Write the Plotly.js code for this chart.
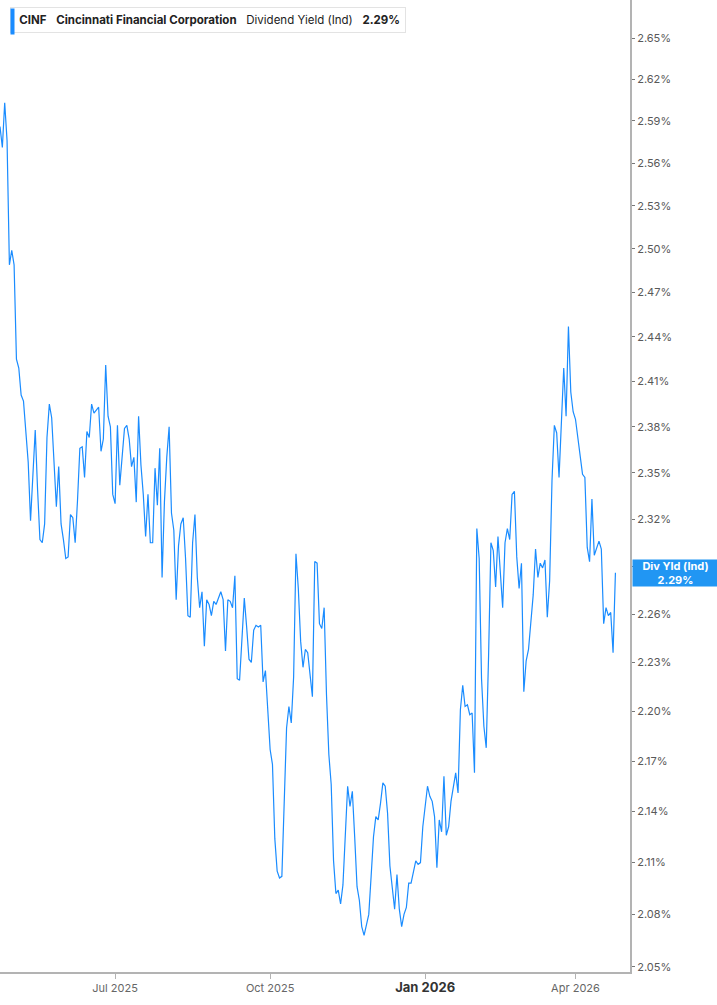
<!DOCTYPE html>
<html>
<head>
<meta charset="utf-8">
<script src="https://cdn.plot.ly/plotly-3.0.1.min.js"></script>
<style>
  html, body { margin: 0; padding: 0; background: #fff; }
  #plot { width: 717px; height: 1005px; }
</style>
</head>
<body>
<div id="plot"></div>
<script>
// trading days, Apr 23 2025 -> Apr 24 2026
const dates = [
    '2025-04-23','2025-04-24','2025-04-25','2025-04-28','2025-04-29','2025-04-30',
    '2025-05-01','2025-05-02','2025-05-05','2025-05-06','2025-05-07','2025-05-08','2025-05-09',
    '2025-05-12','2025-05-13','2025-05-14','2025-05-15','2025-05-16','2025-05-19','2025-05-20',
    '2025-05-21','2025-05-22','2025-05-23','2025-05-27','2025-05-28','2025-05-29','2025-05-30',
    '2025-06-02','2025-06-03','2025-06-04','2025-06-05','2025-06-06','2025-06-09','2025-06-10',
    '2025-06-11','2025-06-12','2025-06-13','2025-06-16','2025-06-17','2025-06-18','2025-06-20',
    '2025-06-23','2025-06-24','2025-06-25','2025-06-26','2025-06-27','2025-06-30',
    '2025-07-01','2025-07-02','2025-07-03','2025-07-07','2025-07-08','2025-07-09','2025-07-10',
    '2025-07-11','2025-07-14','2025-07-15','2025-07-16','2025-07-17','2025-07-18','2025-07-21',
    '2025-07-22','2025-07-23','2025-07-24','2025-07-25','2025-07-28','2025-07-29','2025-07-30','2025-07-31',
    '2025-08-01','2025-08-04','2025-08-05','2025-08-06','2025-08-07','2025-08-08','2025-08-11',
    '2025-08-12','2025-08-13','2025-08-14','2025-08-15','2025-08-18','2025-08-19','2025-08-20',
    '2025-08-21','2025-08-22','2025-08-25','2025-08-26','2025-08-27','2025-08-28','2025-08-29',
    '2025-09-02','2025-09-03','2025-09-04','2025-09-05','2025-09-08','2025-09-09','2025-09-10',
    '2025-09-11','2025-09-12','2025-09-15','2025-09-16','2025-09-17','2025-09-18','2025-09-19',
    '2025-09-22','2025-09-23','2025-09-24','2025-09-25','2025-09-26','2025-09-29','2025-09-30',
    '2025-10-01','2025-10-02','2025-10-03','2025-10-06','2025-10-07','2025-10-08','2025-10-09',
    '2025-10-10','2025-10-13','2025-10-14','2025-10-15','2025-10-16','2025-10-17','2025-10-20',
    '2025-10-21','2025-10-22','2025-10-23','2025-10-24','2025-10-27','2025-10-28','2025-10-29',
    '2025-10-30','2025-10-31',
    '2025-11-03','2025-11-04','2025-11-05','2025-11-06','2025-11-07','2025-11-10','2025-11-11',
    '2025-11-12','2025-11-13','2025-11-14','2025-11-17','2025-11-18','2025-11-19','2025-11-20',
    '2025-11-21','2025-11-24','2025-11-25','2025-11-26','2025-11-28',
    '2025-12-01','2025-12-02','2025-12-03','2025-12-04','2025-12-05','2025-12-08','2025-12-09',
    '2025-12-10','2025-12-11','2025-12-12','2025-12-15','2025-12-16','2025-12-17','2025-12-18',
    '2025-12-19','2025-12-22','2025-12-23','2025-12-24','2025-12-26','2025-12-29','2025-12-30','2025-12-31',
    '2026-01-02','2026-01-05','2026-01-06','2026-01-07','2026-01-08','2026-01-09','2026-01-12',
    '2026-01-13','2026-01-14','2026-01-15','2026-01-16','2026-01-20','2026-01-21','2026-01-22',
    '2026-01-23','2026-01-26','2026-01-27','2026-01-28','2026-01-29','2026-01-30',
    '2026-02-02','2026-02-03','2026-02-04','2026-02-05','2026-02-06','2026-02-09','2026-02-10',
    '2026-02-11','2026-02-12','2026-02-13','2026-02-17','2026-02-18','2026-02-19','2026-02-20',
    '2026-02-23','2026-02-24','2026-02-25','2026-02-26','2026-02-27',
    '2026-03-02','2026-03-03','2026-03-04','2026-03-05','2026-03-06','2026-03-09','2026-03-10',
    '2026-03-11','2026-03-12','2026-03-13','2026-03-16','2026-03-17','2026-03-18','2026-03-19',
    '2026-03-20','2026-03-23','2026-03-24','2026-03-25','2026-03-26','2026-03-27','2026-03-30','2026-03-31',
    '2026-04-01','2026-04-02','2026-04-06','2026-04-07','2026-04-08','2026-04-09','2026-04-10',
    '2026-04-13','2026-04-14','2026-04-15','2026-04-16','2026-04-17','2026-04-20','2026-04-21',
    '2026-04-22','2026-04-23','2026-04-24'
];

// dividend yield (indicated), percent
const divYield = [
    2.586,2.571,2.603,2.576,2.489,2.499,2.489,2.425,2.419,2.401,
    2.397,2.375,2.357,2.319,2.349,2.378,2.339,2.307,2.305,2.317,
    2.373,2.395,2.386,2.328,2.354,2.317,2.307,2.295,2.296,2.323,
    2.321,2.305,2.332,2.366,2.367,2.347,2.377,2.373,2.395,2.389,
    2.393,2.364,2.372,2.421,2.387,2.380,2.336,2.330,2.381,2.342,
    2.379,2.381,2.372,2.354,2.360,2.331,2.387,2.355,2.336,2.309,
    2.336,2.305,2.305,2.353,2.329,2.366,2.283,2.331,2.360,2.380,
    2.324,2.313,2.269,2.303,2.317,2.321,2.295,2.259,2.258,2.305,
    2.323,2.283,2.264,2.274,2.240,2.269,2.266,2.259,2.268,2.266,
    2.274,2.269,2.237,2.269,2.268,2.264,2.284,2.220,2.219,2.244,
    2.270,2.252,2.232,2.230,2.250,2.253,2.252,2.253,2.218,2.225,
    2.199,2.177,2.168,2.124,2.105,2.101,2.102,2.148,2.190,2.203,
    2.193,2.221,2.298,2.276,2.243,2.227,2.238,2.236,2.224,2.209,
    2.293,2.292,2.254,2.251,2.264,2.210,2.174,2.156,2.111,2.092,
    2.094,2.086,2.097,2.126,2.155,2.143,2.152,2.125,2.096,2.088,
    2.073,2.068,2.080,2.102,2.125,2.137,2.135,2.145,2.157,2.155,
    2.139,2.108,2.096,2.083,2.103,2.083,2.073,2.080,2.084,2.098,
    2.098,2.111,2.109,2.110,2.131,2.155,2.149,2.146,2.137,2.107,
    2.135,2.128,2.161,2.126,2.131,2.146,2.163,2.151,2.201,2.216,
    2.203,2.204,2.198,2.199,2.163,2.314,2.295,2.220,2.191,2.178,
    2.234,2.305,2.300,2.277,2.309,2.264,2.305,2.314,2.307,2.336,
    2.338,2.296,2.276,2.292,2.212,2.231,2.238,2.258,2.272,2.301,
    2.283,2.292,2.289,2.294,2.258,2.281,2.345,2.381,2.376,2.347,
    2.379,2.419,2.387,2.447,2.403,2.390,2.385,2.373,2.349,2.347,
    2.302,2.293,2.333,2.297,2.302,2.306,2.301,2.254,2.264,2.259,
    2.261,2.236,2.286
];

const yTicks = [2.05,2.08,2.11,2.14,2.17,2.20,2.23,2.26,2.29,2.32,2.35,2.38,2.41,2.44,2.47,2.50,2.53,2.56,2.59,2.62,2.65];
const xTicks = ['2025-07-01','2025-10-01','2026-01-01','2026-04-01'];
const xTickText = ['Jul 2025','Oct 2025','<b><span style="font-size:13px;fill:#333">Jan 2026</span></b>','Apr 2026'];

const lineColor = '#1a8cff';
const last = divYield[divYield.length - 1];

function drawChart() {
    const trace = {
        x: dates,
        y: divYield,
        type: 'scatter',
        mode: 'lines',
        line: { color: lineColor, width: 1.2 },
        hoverinfo: 'skip'
    };

    // hide the tick label under the last-value box, keep its tick mark
    const yTickText = yTicks.map(v => v === 2.29 ? '' : v.toFixed(2) + '%');

    const annotations = [
        {
            xref: 'paper', yref: 'paper',
            x: 10 / 630, y: 1 - 7 / 972,
            xanchor: 'left', yanchor: 'top',
            showarrow: false,
            align: 'left',
            text: '\u00a0<b>CINF</b>\u00a0\u00a0 <b>Cincinnati Financial Corporation</b>\u00a0\u00a0 Dividend Yield (Ind)\u00a0\u00a0 <b>' + last.toFixed(2) + '%</b>',
            font: { family: 'Inter, Roboto, sans-serif', size: 11.5, color: '#222' },
            bgcolor: '#ffffff',
            bordercolor: '#e3e3e3',
            borderwidth: 1,
            borderpad: 5
        },
        {
            // blue marker on the left edge of the title box
            xref: 'paper', yref: 'paper',
            x: 10 / 630, y: 1 - 8 / 972,
            xanchor: 'left', yanchor: 'top',
            showarrow: false,
            text: ' ',
            width: 3, height: 25,
            borderpad: 0,
            bgcolor: lineColor
        },
        {
            xref: 'paper', yref: 'y',
            x: 1, y: Math.log10(last),
            xanchor: 'left', yanchor: 'middle',
            xshift: 2,
            showarrow: false,
            align: 'center',
            text: '<b>Div Yld (Ind)</b><br><b>' + last.toFixed(2) + '%</b>',
            font: { family: 'Inter, Roboto, sans-serif', size: 11, color: '#ffffff' },
            bgcolor: '#2196f3',
            width: 81, height: 22,
            borderpad: 2
        }
    ];

    const layout = {
        width: 717,
        height: 1005,
        margin: { l: 0, r: 87, t: 0, b: 33 },
        paper_bgcolor: '#ffffff',
        plot_bgcolor: '#ffffff',
        showlegend: false,
        font: { family: 'Inter, Roboto, sans-serif', size: 11, color: '#595959' },
        xaxis: {
            type: 'date',
            range: ['2025-04-23', '2026-05-04 05:00'],
            rangebreaks: [{ bounds: ['sat', 'mon'] }],
            tickvals: xTicks,
            ticktext: xTickText,
            ticks: 'outside',
            ticklen: 5,
            tickcolor: '#b3b3b3',
            showgrid: false,
            zeroline: false,
            showline: true,
            linecolor: '#b3b3b3',
            linewidth: 2,
            tickfont: { size: 11, color: '#666' },
            fixedrange: true
        },
        yaxis: {
            type: 'log',
            side: 'right',
            range: [0.31115, 0.42781],
            tickvals: yTicks,
            ticktext: yTickText,
            ticks: 'outside',
            ticklen: 3,
            tickcolor: '#777',
            showgrid: false,
            zeroline: false,
            showline: true,
            linecolor: '#b3b3b3',
            linewidth: 2,
            tickfont: { size: 11, color: '#595959' },
            fixedrange: true
        },
        annotations: annotations
    };

    const config = { staticPlot: true, displayModeBar: false };

    Plotly.newPlot('plot', [trace], layout, config);
}

drawChart();
</script>
</body>
</html>
